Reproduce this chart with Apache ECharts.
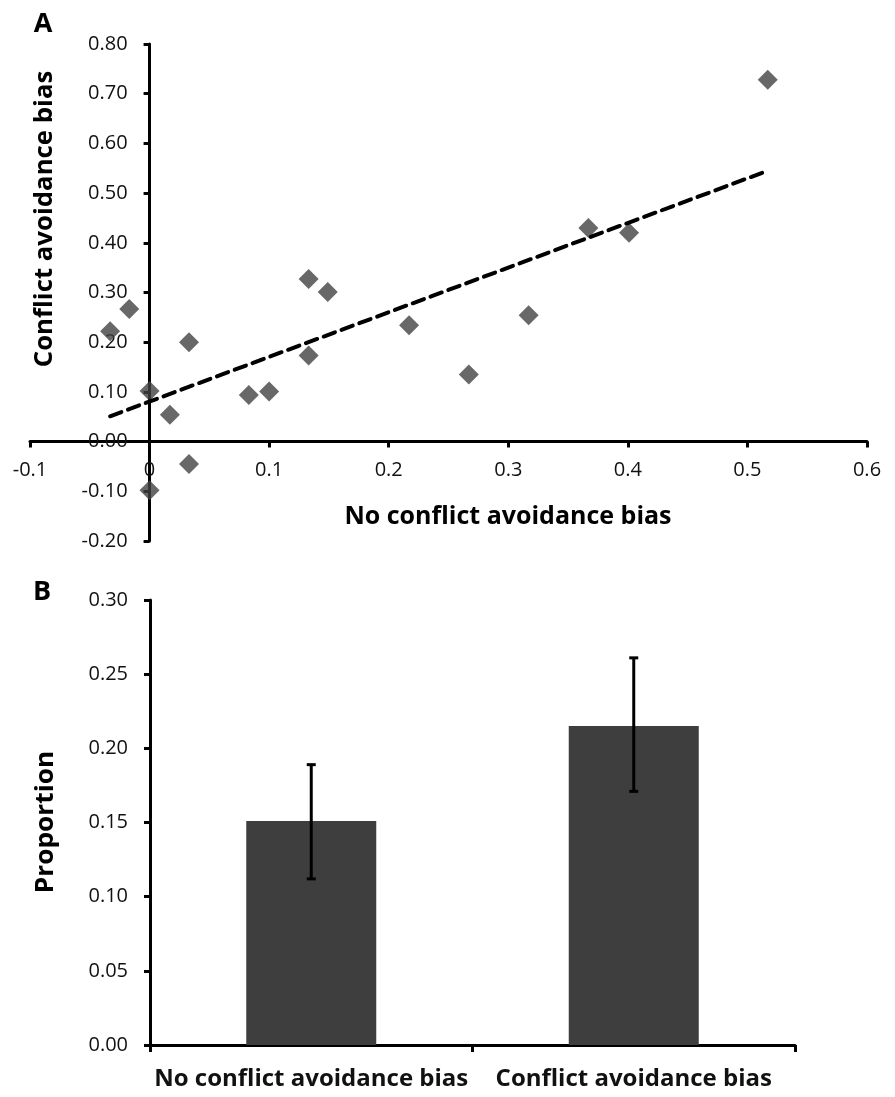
<!DOCTYPE html>
<html><head><meta charset="utf-8">
<script src="https://cdn.jsdelivr.net/npm/echarts@6/dist/echarts.min.js"></script>
<style>html,body{margin:0;padding:0;background:#fff}#c{width:895px;height:1097px}</style>
</head><body><div id="c"></div>
<script>
// Panel A: scatter data
const scatterX = [-0.033, -0.017, 0.033, 0.0, 0.017, 0.033, 0.0, 0.083, 0.100, 0.133, 0.149, 0.133, 0.217, 0.267, 0.317, 0.367, 0.401, 0.517];
const scatterY = [0.222, 0.267, 0.200, 0.102, 0.054, -0.045, -0.098, 0.094, 0.101, 0.327, 0.301, 0.173, 0.234, 0.135, 0.254, 0.430, 0.420, 0.728];
// Trend line endpoints
const trendX = [-0.033, 0.517];
const trendY = [0.051, 0.545];
// Panel B: bars with error bars
const barCategories = ['No conflict avoidance bias', 'Conflict avoidance bias'];
const barValues = [0.151, 0.215];
const errLow = [0.112, 0.171];
const errHigh = [0.189, 0.261];

const FONT = 'Open Sans';
const chart = echarts.init(document.getElementById('c'), null, {renderer: 'canvas'});

const axisLineStyle = {color: '#000', width: 3};
const tickStyle = {color: '#000', width: 3};
const labelStyle = {color: '#111', fontFamily: FONT, fontSize: 20};

// Grid A geometry
const gA = {left: 30, right: 28, top: 44, height: 497};
const gAwidth = 895 - gA.left - gA.right;
const xMin = -0.1, xMax = 0.6, yMin = -0.2, yMax = 0.8;
const yAxisOffset = -gAwidth * (0 - xMin) / (xMax - xMin);
const xAxisOffset = -gA.height * (0 - yMin) / (yMax - yMin);

chart.setOption({
  backgroundColor: '#fff',
  animation: false,
  grid: [
    {left: gA.left, right: gA.right, top: gA.top, height: gA.height, containLabel: false, outerBoundsMode: 'none'},
    {left: 150, right: 100, top: 600, height: 445, containLabel: false, outerBoundsMode: 'none'}
  ],
  xAxis: [
    {
      gridIndex: 0, type: 'value', min: xMin, max: xMax, interval: 0.1, position: 'bottom', offset: xAxisOffset,
      axisLine: {show: true, onZero: false, lineStyle: axisLineStyle},
      axisTick: {show: true, inside: false, length: 6, lineStyle: tickStyle},
      splitLine: {show: false},
      axisLabel: Object.assign({margin: 19, formatter: v => (Math.abs(v) < 1e-9 ? '0' : v.toFixed(1))}, labelStyle)
    },
    {
      gridIndex: 1, type: 'category', data: barCategories, boundaryGap: true,
      axisLine: {show: true, lineStyle: axisLineStyle},
      axisTick: {show: true, length: 7, lineStyle: tickStyle},
      axisLabel: {interval: 0, margin: 22, color: '#111', fontFamily: FONT, fontWeight: 'bold', fontSize: 24}
    }
  ],
  yAxis: [
    {
      gridIndex: 0, type: 'value', min: yMin, max: yMax, interval: 0.1, position: 'left', offset: yAxisOffset,
      axisLine: {show: true, onZero: false, lineStyle: axisLineStyle},
      axisTick: {show: true, length: 6, lineStyle: tickStyle},
      splitLine: {show: false},
      axisLabel: Object.assign({margin: 22, formatter: v => v.toFixed(2)}, labelStyle)
    },
    {
      gridIndex: 1, type: 'value', min: 0, max: 0.3, interval: 0.05,
      axisLine: {show: true, lineStyle: axisLineStyle},
      axisTick: {show: true, length: 6, lineStyle: tickStyle},
      splitLine: {show: false},
      axisLabel: Object.assign({margin: 22, formatter: v => v.toFixed(2)}, labelStyle)
    }
  ],
  series: [
    {
      type: 'line', xAxisIndex: 0, yAxisIndex: 0,
      data: trendX.map((x, i) => [x, trendY[i]]),
      showSymbol: false, symbol: 'none',
      lineStyle: {color: '#000', width: 4, type: [12, 7], cap: 'round'},
      z: 3
    },
    {
      type: 'scatter', xAxisIndex: 0, yAxisIndex: 0,
      data: scatterX.map((x, i) => [x, scatterY[i]]),
      symbol: 'diamond', symbolSize: [20, 20],
      itemStyle: {color: '#424242'},
      z: 2
    },
    {
      type: 'bar', xAxisIndex: 1, yAxisIndex: 1,
      data: barValues, barWidth: 130,
      itemStyle: {color: '#3e3e3e'},
      z: 2
    },
    {
      type: 'custom', xAxisIndex: 1, yAxisIndex: 1,
      data: barValues.map((v, i) => [i, errLow[i], errHigh[i]]),
      renderItem: function (params, api) {
        const lo = api.coord([api.value(0), api.value(1)]);
        const hi = api.coord([api.value(0), api.value(2)]);
        const cw = 4.5;
        const st = {stroke: '#000', lineWidth: 3};
        return {
          type: 'group',
          children: [
            {type: 'line', shape: {x1: hi[0], y1: hi[1], x2: lo[0], y2: lo[1]}, style: st},
            {type: 'line', shape: {x1: hi[0] - cw, y1: hi[1], x2: hi[0] + cw, y2: hi[1]}, style: st},
            {type: 'line', shape: {x1: lo[0] - cw, y1: lo[1], x2: lo[0] + cw, y2: lo[1]}, style: st}
          ]
        };
      },
      z: 5
    }
  ],
  graphic: [
    {type: 'text', x: 43, y: 24, style: {text: 'A', font: 'bold 27px "Open Sans"', fill: '#000', align: 'center', verticalAlign: 'middle'}},
    {type: 'text', x: 42, y: 592, style: {text: 'B', font: 'bold 27px "Open Sans"', fill: '#000', align: 'center', verticalAlign: 'middle'}},
    {type: 'text', x: 45, y: 219, rotation: Math.PI / 2, scaleX: 1.03,
      style: {text: 'Conflict avoidance bias', font: 'bold 25px "Open Sans"', fill: '#000', align: 'center', verticalAlign: 'middle'}},
    {type: 'text', x: 508, y: 517,
      style: {text: 'No conflict avoidance bias', font: 'bold 25px "Open Sans"', fill: '#000', align: 'center', verticalAlign: 'middle'}},
    {type: 'text', x: 46, y: 822, rotation: Math.PI / 2, scaleX: 1.05,
      style: {text: 'Proportion', font: 'bold 25px "Open Sans"', fill: '#000', align: 'center', verticalAlign: 'middle'}}
  ]
});
</script>
</body></html>
